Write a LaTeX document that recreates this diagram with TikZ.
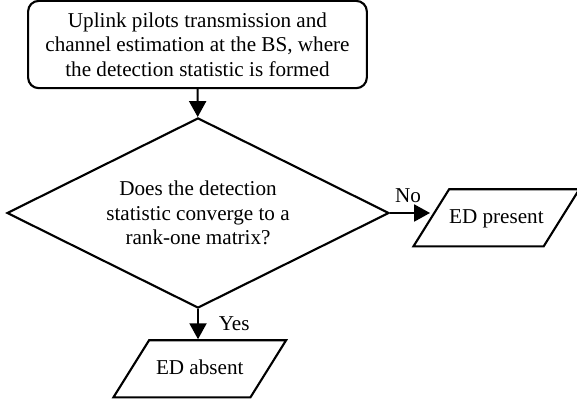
\documentclass[tikz,border=0pt]{standalone}
\usepackage{fontspec}
\setmainfont{Liberation Serif}
\usetikzlibrary{shapes.geometric,arrows.meta}

\tikzset{
  stepbox/.style={draw, line width=1pt, rounded corners=5pt, align=center,
    minimum width=5.63cm, minimum height=1.45cm, inner sep=0pt},
  decision/.style={draw, diamond, aspect=2, line width=1pt, align=center,
    minimum width=6.35cm, minimum height=3.16cm, inner sep=0pt},
  iobox/.style={draw, trapezium, trapezium left angle=58, trapezium right angle=122,
    trapezium stretches body, line width=1pt, align=center,
    text height=7pt, text depth=2pt, inner ysep=9pt, inner xsep=0pt},
  flow/.style={line width=1pt, -{Triangle[width=8pt,length=7.5pt]}},
}

\begin{document}
\begin{tikzpicture}[font=\fontsize{10}{11.6}\selectfont]
        % Riquadro della figura
        \useasboundingbox (0,0) rectangle (9.59,-6.73);

        % Blocchi del diagramma
        \node[stepbox] (start) at (3.282,-0.74) {Uplink pilots transmission and\\channel estimation at the BS, where\\the detection statistic is formed};
        \node[decision] (check) at (3.291,-3.54) {Does the detection\\statistic converge to a\\rank-one matrix?};
        \node[iobox, minimum width=2.69cm] (present) at (8.25,-3.62) {ED present};
        \node[iobox, minimum width=2.87cm] (absent) at (3.32,-6.13) {ED absent};

        % Frecce
        \draw[flow] (start) -- (check);
        \draw[flow] (check.east) -- (check.east -| present.west) node[pos=0.45, above=1pt] {No};
        \draw[flow] (check.south) -- (check.south |- absent.north) node[midway, right=6pt] {Yes};
    \end{tikzpicture}
\end{document}
